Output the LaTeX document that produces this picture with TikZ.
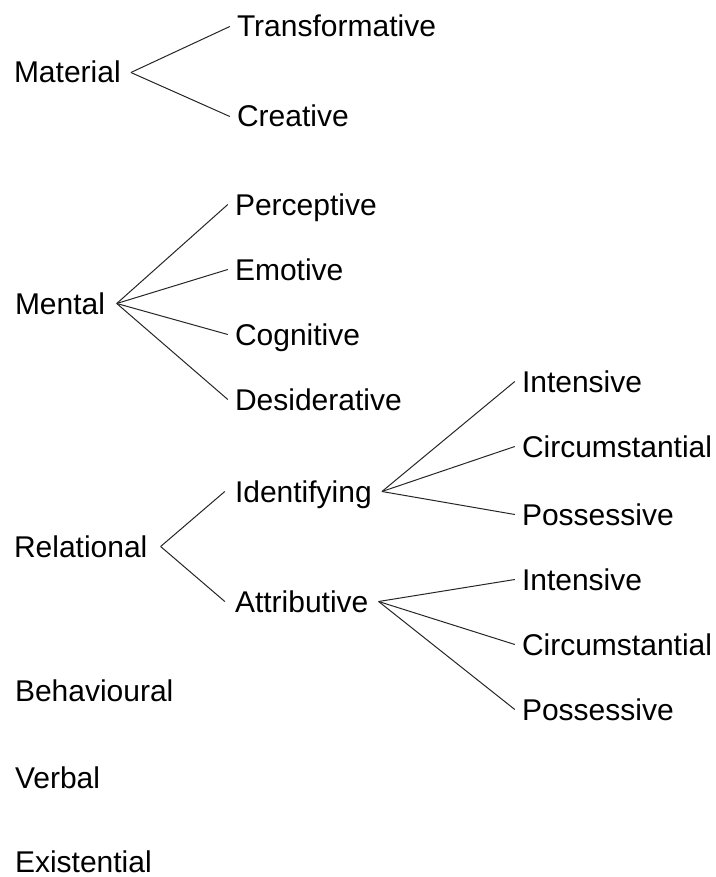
\documentclass[tikz,border=0pt]{standalone}
\usepackage{fontspec}
\setmainfont{Liberation Sans}

\tikzset{
    term/.style={anchor=text, inner xsep=7pt, inner ysep=0pt,
        text height=21pt, text depth=0pt,
        font=\fontsize{30}{36}\selectfont},
    branch/.style={draw=black!85, line width=1pt}
}

\begin{document}
\begin{tikzpicture}[x=1pt,y=-1pt]
    \useasboundingbox (0,0) rectangle (715,877);

    % process types
    \node[term,inner xsep=10pt] (mat) at (14,83) {Material};
    \node[term,inner xsep=11.5pt] (ment) at (15,314) {Mental};
    \node[term,inner xsep=13pt] (rel) at (14,557) {Relational};
    \node[term] (beh) at (15,701) {Behavioural};
    \node[term] (verb) at (15,788) {Verbal};
    \node[term] (exis) at (15,872) {Existential};

    \node[term] (trans) at (237,37) {Transformative};
    \node[term] (crea) at (237,127) {Creative};

    \node[term] (perc) at (235,215) {Perceptive};
    \node[term] (emot) at (235,280) {Emotive};
    \node[term] (cogn) at (235,345) {Cognitive};
    \node[term] (desi) at (235,410) {Desiderative};

    \node[term,inner xsep=10pt] (iden) at (235,502) {Identifying};
    \node[term,inner xsep=10pt] (attr) at (235,612) {Attributive};

    \node[term] (iint) at (522,392) {Intensive};
    \node[term] (icirc) at (522,457) {Circumstantial};
    \node[term] (iposs) at (522,525) {Possessive};
    \node[term] (aint) at (522,590) {Intensive};
    \node[term] (acirc) at (522,655) {Circumstantial};
    \node[term] (aposs) at (522,720) {Possessive};

    \foreach \c in {trans,crea} \draw[branch] (mat.east) -- (\c.west);
    \foreach \c in {perc,emot,cogn,desi} \draw[branch] (ment.east) -- (\c.west);
    \foreach \c in {iden,attr} \draw[branch] (rel.east) -- (\c.west);
    \foreach \c in {iint,icirc,iposs} \draw[branch] (iden.east) -- (\c.west);
    \foreach \c in {aint,acirc,aposs} \draw[branch] (attr.east) -- (\c.west);
\end{tikzpicture}
\end{document}
